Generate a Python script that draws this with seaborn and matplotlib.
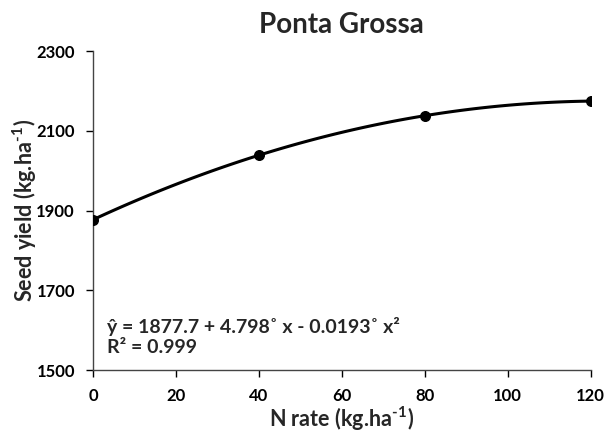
import matplotlib
matplotlib.use("Agg")
import matplotlib.pyplot as plt
import seaborn as sns
import pandas as pd

n_rate = [0, 40, 80, 120]
seed_yield = [1877, 2040, 2137, 2175]
x_ticks = [0, 20, 40, 60, 80, 100, 120]
y_ticks = [1500, 1700, 1900, 2100, 2300]

sns.set_style("ticks")
plt.rcParams['font.family'] = ['Lato', 'DejaVu Sans']
plt.rcParams['font.weight'] = 'bold'
plt.rcParams['mathtext.fontset'] = 'custom'
plt.rcParams['mathtext.rm'] = 'Lato:bold'
plt.rcParams['mathtext.default'] = 'rm'

df = pd.DataFrame({"N": n_rate, "Y": seed_yield})

fig = plt.figure(figsize=(6.04, 4.33), dpi=100)
ax = fig.add_axes([0.154, 0.145, 0.824, 0.737])
sns.regplot(data=df, x="N", y="Y", order=2, ci=None, ax=ax, color="black",
            scatter_kws={"s": 48, "zorder": 3, "alpha": 1}, line_kws={"lw": 2.2})

ax.set_xlim(0, 120)
ax.set_ylim(1500, 2300)
ax.set_xticks(x_ticks)
ax.set_yticks(y_ticks)
ax.tick_params(axis='both', labelsize=12, length=5, width=1, colors='black', direction='out')
ax.tick_params(axis='y', pad=8)
ax.tick_params(axis='x', pad=8)
for lab in ax.get_xticklabels() + ax.get_yticklabels():
    lab.set_fontweight('bold')
sns.despine(ax=ax)
for s in ['left', 'bottom']:
    ax.spines[s].set_color('#444444')
    ax.spines[s].set_linewidth(1)

ax.set_xlabel("N rate (kg.ha$^{\u2010}$$^{1}$)", fontsize=15.5, fontweight='bold')
ax.set_ylabel("Seed yield (kg.ha$^{\u2010}$$^{1}$)", fontsize=15.5, fontweight='bold')
ax.xaxis.label.set_va('baseline')
ax.xaxis.set_label_coords(0.5, -0.178)
ax.yaxis.set_label_coords(-0.108, 0.5)
ax.set_title("Ponta Grossa", fontsize=20, fontweight='bold', pad=13)

ax.text(0.028, 0.116, "ŷ = 1877.7 + 4.798˚ x - 0.0193˚ x²", transform=ax.transAxes,
        fontsize=14, fontweight='bold', va='baseline', ha='left')
ax.text(0.028, 0.053, "R² = 0.999", transform=ax.transAxes,
        fontsize=14, fontweight='bold', va='baseline', ha='left')

fig.savefig("out.png", dpi=100)
